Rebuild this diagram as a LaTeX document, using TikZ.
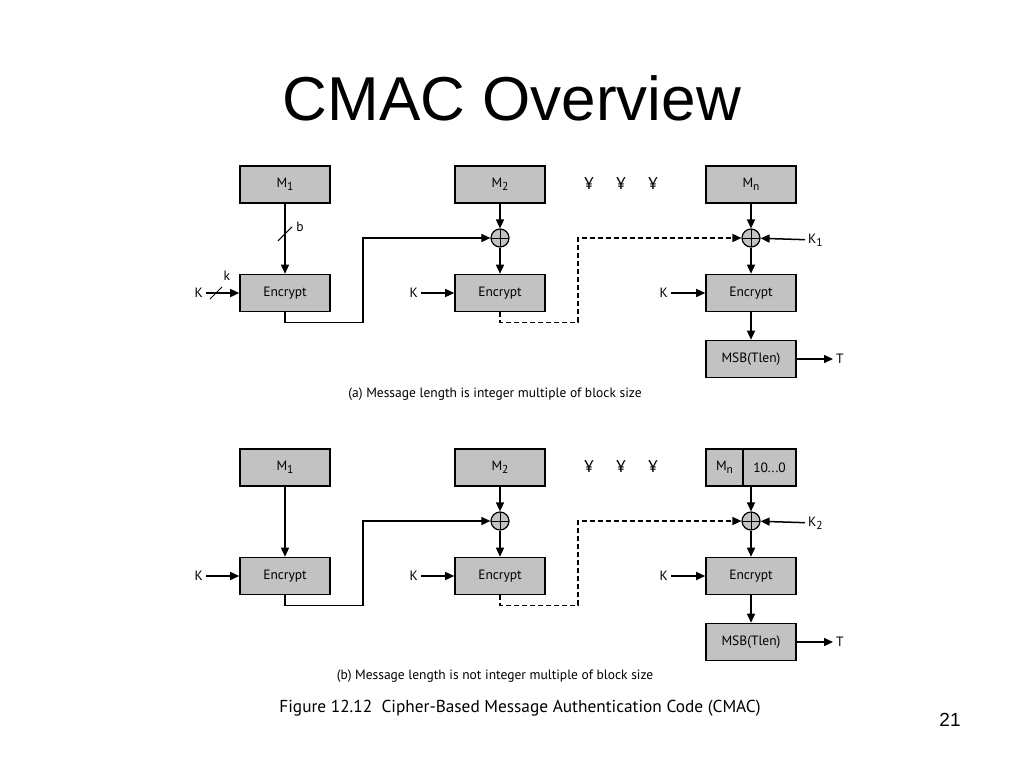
\documentclass[tikz,border=0pt]{standalone}
\usepackage{fontspec}
\setmainfont{PT Sans}
\newfontfamily\titlefont{Liberation Sans}
\usetikzlibrary{arrows.meta}
\definecolor{boxgray}{RGB}{194,194,194}
\newcommand{\lowidx}[1]{\raisebox{-0.5ex}{\fontsize{11.5}{11.5}\selectfont #1}}
\tikzset{
  block/.style={draw, line width=1.6pt, fill=boxgray, minimum width=90pt, minimum height=37pt, inner sep=0pt, font=\fontsize{13.5}{15}\selectfont},
  xor/.style={draw, circle, fill=boxgray, line width=1.2pt, minimum size=18pt, inner sep=0pt,
    path picture={\draw[line width=1pt] (path picture bounding box.north) -- (path picture bounding box.south)
      (path picture bounding box.west) -- (path picture bounding box.east);}},
  flow/.style={line width=1.5pt, -{Triangle[length=9pt,width=8pt]}},
  lbl/.style={font=\fontsize{13.5}{15}\selectfont, inner sep=3pt},
  dots/.style={font=\fontsize{17}{18}\selectfont, inner sep=1pt},
  cut/.style={line width=1pt}
}
\begin{document}
\begin{tikzpicture}[x=1pt, y=-1pt]
    \useasboundingbox (0,0) rectangle (1024,768);
    \node[font=\titlefont\fontsize{62}{70}\selectfont, anchor=base] (title) at (512,120) {CMAC Overview};

    % (a) message length is integer multiple of block size
    \node[block] (m1a) at (285,184.5) {M\lowidx{1}};
    \node[block] (m2a) at (500,184.5) {M\lowidx{2}};
    \node[block] (mna) at (751,184.5) {M\lowidx{n}};
    \foreach \x in {589,621,653}
        \node[dots] (dota\x) at (\x,184) {¥};
    \node[xor] (xor2a) at (500,238) {};
    \node[xor] (xorna) at (751,238) {};
    \node[block] (enc1a) at (285,293) {Encrypt};
    \node[block] (enc2a) at (500,293) {Encrypt};
    \node[block] (encna) at (751,293) {Encrypt};
    \node[block] (msba) at (751,359) {MSB(Tlen)};
    \node[lbl, anchor=east] (k1a) at (206,293) {K};
    \node[lbl, anchor=east] (k2a) at (421,293) {K};
    \node[lbl, anchor=east] (kna) at (671,293) {K};
    \node[lbl, anchor=west] (kk1) at (805,240) {K\lowidx{1}};
    \node[lbl, anchor=west] (ta) at (833,359) {T};

    \draw[flow] (m1a) -- coordinate[pos=0.43] (bcut) (enc1a);
    \draw[cut] (bcut) +(-7,7) -- +(7,-7);
    \node[lbl] (blbl) at ([shift={(15,-7)}]bcut) {b};
    \draw[flow] (k1a) -- coordinate[pos=0.3] (kcut) (enc1a);
    \draw[cut] (kcut) +(-6,6) -- +(6,-6);
    \node[lbl] (klbl) at ([shift={(11,-17)}]kcut) {k};
    \draw[flow] (m2a) -- (xor2a);
    \draw[flow] (xor2a) -- (enc2a);
    \draw[flow] (k2a) -- (enc2a);
    \draw[flow] (mna) -- (xorna);
    \draw[flow] (kk1) -- (xorna);
    \draw[flow] (xorna) -- (encna);
    \draw[flow] (kna) -- (encna);
    \draw[flow] (encna) -- (msba);
    \draw[flow] (msba) -- (ta);
    \draw[flow] (enc1a.south) |- ++(78,10) |- (xor2a.west);
    \draw[flow, dash pattern=on 5pt off 3pt] (enc2a.south) |- ++(78,10) |- (xorna.west);
    \node[lbl] (capa) at (495,394) {(a) Message length is integer multiple of block size};

    % (b) message length is not integer multiple of block size
    \node[block] (m1b) at (285,467.5) {M\lowidx{1}};
    \node[block] (m2b) at (500,467.5) {M\lowidx{2}};
    \node[block, outer sep=0pt, minimum width=37pt] (mnb) at (724.5,467.5) {M\lowidx{n}};
    \node[block, outer sep=0pt, minimum width=53pt, anchor=west] (padb) at (mnb.east) {10...0};
    \foreach \x in {589,621,653}
        \node[dots] (dotb\x) at (\x,467) {¥};
    \node[xor] (xor2b) at (500,521) {};
    \node[xor] (xornb) at (751,521) {};
    \node[block] (enc1b) at (285,576) {Encrypt};
    \node[block] (enc2b) at (500,576) {Encrypt};
    \node[block] (encnb) at (751,576) {Encrypt};
    \node[block] (msbb) at (751,642) {MSB(Tlen)};
    \node[lbl, anchor=east] (k1b) at (206,576) {K};
    \node[lbl, anchor=east] (k2b) at (421,576) {K};
    \node[lbl, anchor=east] (knb) at (671,576) {K};
    \node[lbl, anchor=west] (kk2) at (805,523) {K\lowidx{2}};
    \node[lbl, anchor=west] (tb) at (833,642) {T};

    \draw[flow] (m1b) -- (enc1b);
    \draw[flow] (k1b) -- (enc1b);
    \draw[flow] (m2b) -- (xor2b);
    \draw[flow] (xor2b) -- (enc2b);
    \draw[flow] (k2b) -- (enc2b);
    \draw[flow] ([yshift=0.8pt]xornb |- padb.south) -- (xornb);
    \draw[flow] (kk2) -- (xornb);
    \draw[flow] (xornb) -- (encnb);
    \draw[flow] (knb) -- (encnb);
    \draw[flow] (encnb) -- (msbb);
    \draw[flow] (msbb) -- (tb);
    \draw[flow] (enc1b.south) |- ++(78,10) |- (xor2b.west);
    \draw[flow, dash pattern=on 5pt off 3pt] (enc2b.south) |- ++(78,10) |- (xornb.west);
    \node[lbl] (capb) at (495,676) {(b) Message length is not integer multiple of block size};

    \node[font=\fontsize{17.3}{19}\selectfont] (fig) at (520,708) {Figure 12.12\ \ Cipher-Based Message Authentication Code (CMAC)};
    \node[font=\titlefont\fontsize{19}{22}\selectfont, anchor=base] (page) at (950,726) {21};
\end{tikzpicture}
\end{document}
